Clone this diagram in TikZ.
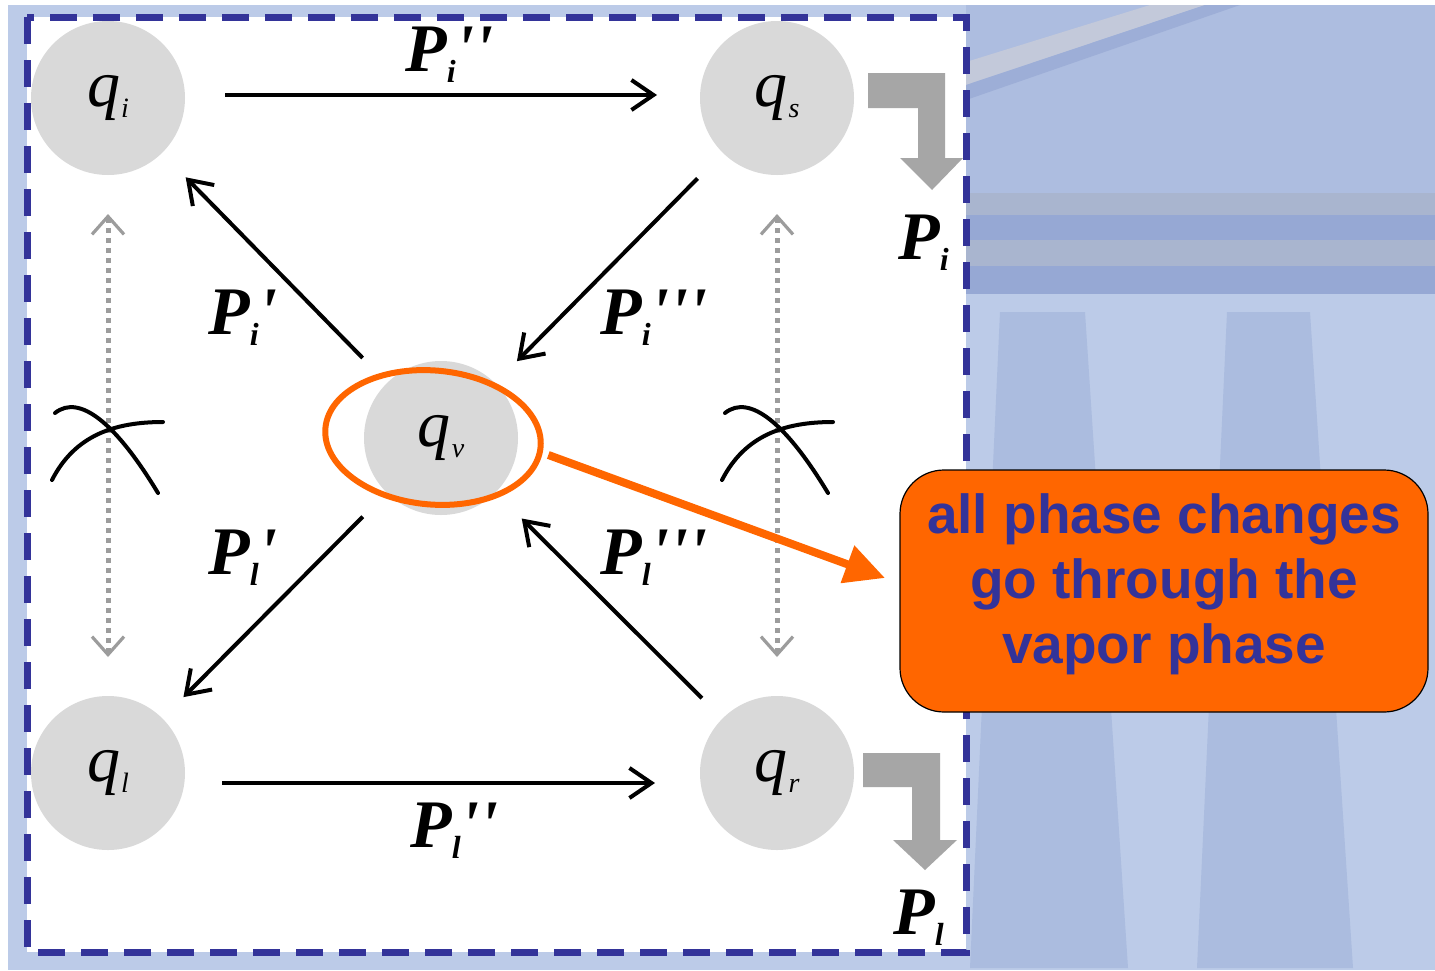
\documentclass[tikz,border=0pt]{standalone}
\usepackage{fontspec}
\newfontfamily\lblfont{Liberation Serif}
\newfontfamily\boxfont{Liberation Sans}
\usetikzlibrary{arrows.meta,calc,shapes.geometric}
\definecolor{bgblue}{HTML}{BCCBE8}
\definecolor{upblue}{HTML}{ADBDE0}
\definecolor{bandgray}{HTML}{A9B5CF}
\definecolor{banddark}{HTML}{96A8D4}
\definecolor{colblue}{HTML}{ABBCDF}
\definecolor{diaglight}{HTML}{C3C9DA}
\definecolor{framec}{HTML}{333399}
\definecolor{qgray}{HTML}{D9D9D9}
\definecolor{bentgray}{HTML}{A6A6A6}
\definecolor{dotgray}{HTML}{9C9C9C}
\definecolor{orangec}{HTML}{FF6600}
\definecolor{txtblue}{HTML}{333399}
\newcommand\mysubq[1]{\kern0.5pt\raisebox{-5.5pt}{\fontsize{14}{14}\selectfont #1}}
\newcommand\mylabP[2]{P\raisebox{-5.5pt}{\fontsize{16}{16}\selectfont #1}#2}
\begin{document}
\begin{tikzpicture}[x=0.5pt,y=-0.5pt,
  qnode/.style={circle, fill=qgray, minimum size=77pt, inner sep=0pt,
    font=\lblfont\itshape\fontsize{33}{33}\selectfont},
  plabel/.style={font=\lblfont\bfseries\itshape\fontsize{34}{34}\selectfont,
    inner sep=0pt, anchor=base west},
  blackarrow/.style={line width=2pt, -{Straight Barb[length=11pt,width=15pt]}},
  dotarrow/.style={draw=dotgray, line width=2.5pt, dash pattern=on 2.5pt off 2.5pt,
    {Straight Barb[length=9pt,width=16pt,line width=1.6pt]}-{Straight Barb[length=9pt,width=16pt,line width=1.6pt]}},
  crossline/.style={line width=2pt, line cap=round},
  bentarrow/.style={fill=bentgray},
  vapring/.style={ellipse, draw=orangec, line width=3pt, minimum width=108pt,
    minimum height=67pt, inner sep=0pt, rotate=-5},
  orangearrow/.style={draw=orangec, line width=4pt, -{Triangle[length=20pt,width=19pt]}},
  callout/.style={draw=black, line width=0.6pt, fill=orangec, rounded corners=22pt,
    minimum width=264pt, minimum height=121pt, text=txtblue,
    font=\boxfont\bfseries\fontsize{27.5}{32.5}\selectfont, inner sep=0pt}
]
\useasboundingbox (0,0) rectangle (1435,970);
% background
\fill[bgblue] (0,0) rectangle (1435,970);
\fill[upblue] (966,5) rectangle (1435,193);
\fill[diaglight] (966,62) -- (1150,5) -- (1205,5) -- (966,85) -- cycle;
\fill[banddark!70!upblue] (966,85) -- (1205,5) -- (1240,5) -- (966,100) -- cycle;
\fill[bandgray] (966,193) rectangle (1435,215);
\fill[banddark] (966,215) rectangle (1435,240);
\fill[bandgray] (966,240) rectangle (1435,266);
\fill[banddark] (966,266) rectangle (1435,294);
\fill[colblue] (1000,312) -- (1085,312) -- (1128,968) -- (970,968) -- cycle;
\fill[colblue] (1227,312) -- (1310,312) -- (1353,968) -- (1197,968) -- cycle;
\fill[white] (0,0) rectangle (1435,5);
\fill[white] (0,0) rectangle (8,970);
% white panel with dashed frame
\fill[white] (27,17) rectangle (966,952);
\draw[framec, line width=3.5pt, dash pattern=on 13.5pt off 8pt] (27,17) rectangle (966,952);
% state nodes
\node[qnode] (qi) at (108,98) {q\mysubq{i}};
\node[qnode] (qs) at (777,98) {q\mysubq{s}};
\node[qnode] (ql) at (108,773) {q\mysubq{l}};
\node[qnode] (qr) at (777,773) {q\mysubq{r}};
\node[qnode] (qv) at (441,438) {q\mysubq{v}};
% transitions
\draw[blackarrow] ([yshift=1.5pt]$(qi)!58.5pt!(qs)$) -- ([yshift=1.5pt]$(qs)!60pt!(qi)$);
\draw[blackarrow] ([yshift=-5pt]$(ql)!57pt!(qr)$) -- ([yshift=-5pt]$(qr)!61pt!(ql)$);
\draw[blackarrow] ($(qv)!56pt!(qi)$) -- ($(qi)!55.5pt!(qv)$);
\draw[blackarrow] ($(qs)!56.5pt!(qv)$) -- ($(qv)!54pt!(qs)$);
\draw[blackarrow] ($(qv)!55.5pt!(ql)$) -- ($(ql)!53.5pt!(qv)$);
\draw[blackarrow] ($(qr)!53pt!(qv)$) -- ($(qv)!57pt!(qr)$);
% dotted equilibrium arrows
\draw[dotarrow] ($(qi)!58pt!(ql)$) -- ($(ql)!58pt!(qi)$);
\draw[dotarrow] ($(qs)!58pt!(qr)$) -- ($(qr)!58pt!(qs)$);
% crossing arcs
\draw[crossline] (55,413) .. controls (80,393) and (117,425) .. (158,493);
\draw[crossline] (52,480) .. controls (75,435) and (115,422) .. (163,422);
\draw[crossline] (725,413) .. controls (750,393) and (787,425) .. (828,493);
\draw[crossline] (722,480) .. controls (745,435) and (785,422) .. (833,422);
% bent gray arrows
\fill[bentarrow] (868,73) -- (945,73) -- (945,158) -- (963,158) -- (932,190) -- (900,158) -- (918,158) -- (918,108) -- (868,108) -- cycle;
\fill[bentarrow] (863,753) -- (940,753) -- (940,840) -- (957,840) -- (925,870) -- (893,840) -- (912,840) -- (912,787) -- (863,787) -- cycle;
% labels
\node[plabel] (lPi2) at (405,71) {\mylabP{i}{''}};
\node[plabel] (lPi1) at (208,334) {\mylabP{i}{'}};
\node[plabel] (lPi3) at (600,334) {\mylabP{i}{'''}};
\node[plabel] (lPl1) at (208,574) {\mylabP{l}{'}};
\node[plabel] (lPl3) at (600,574) {\mylabP{l}{'''}};
\node[plabel] (lPl2) at (410,847) {\mylabP{l}{''}};
\node[plabel] (lPi) at (898,259) {\mylabP{i}{}};
\node[plabel] (lPl) at (893,934) {\mylabP{l}{}};
% vapour highlight and callout
\node[vapring] (ve) at (433,437.5) {};
\node[callout] (box) at (1164,591) {\raisebox{3pt}[\height][\depth]{\begin{tabular}{@{}c@{}}all phase changes\\go through the\\vapor phase\end{tabular}}};
\coordinate (otip) at (885,578);
\draw[orangearrow, shorten <=3pt] (ve.-3) -- (otip);
\end{tikzpicture}
\end{document}
